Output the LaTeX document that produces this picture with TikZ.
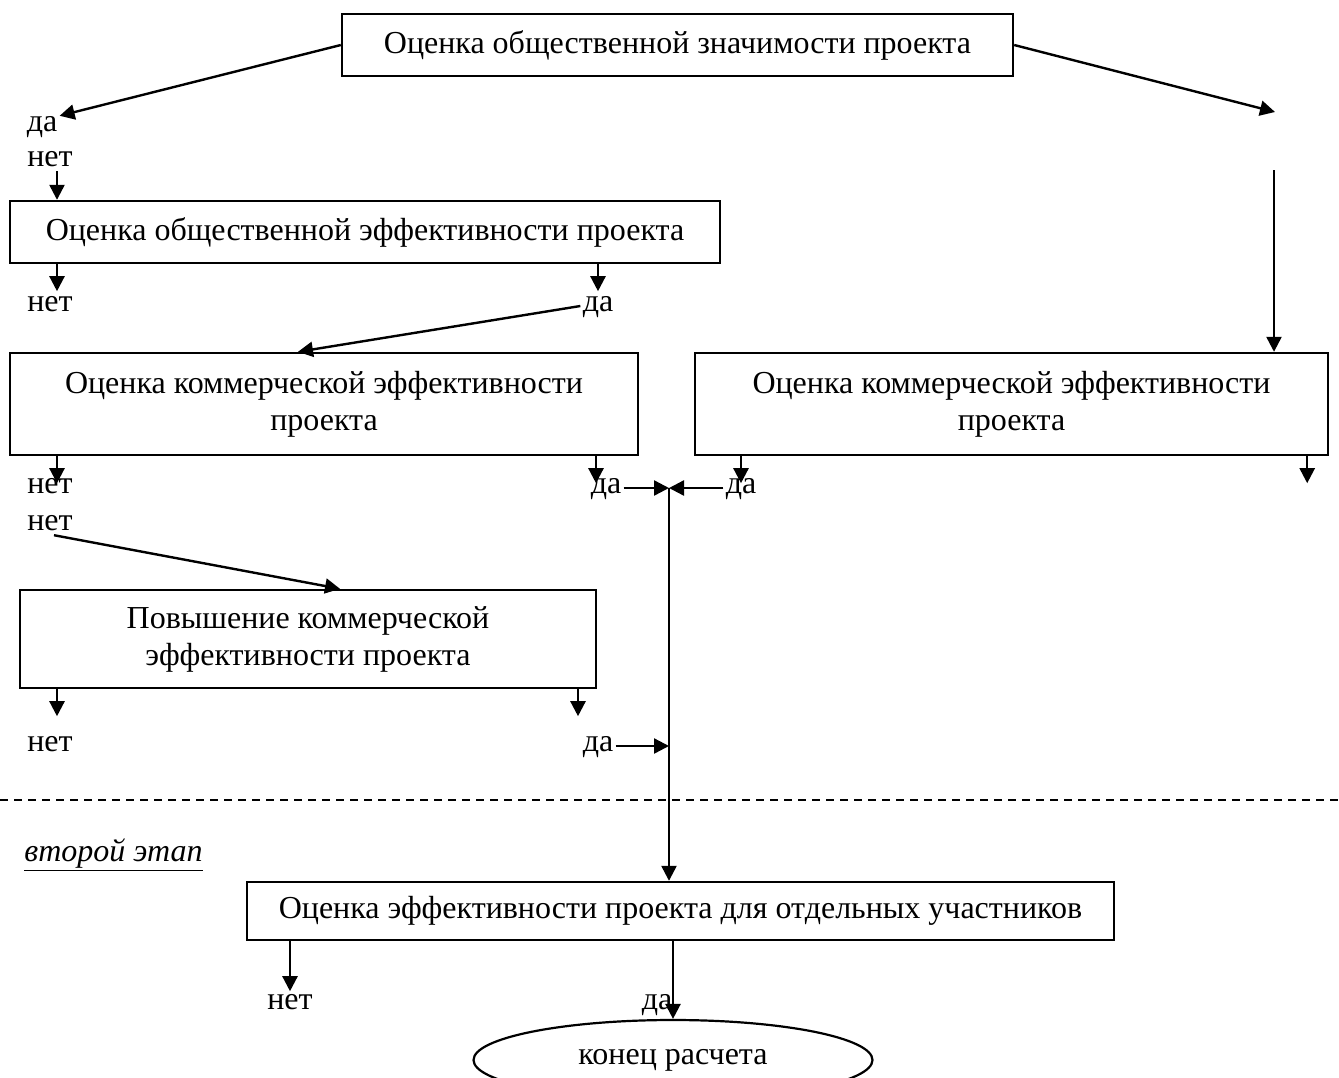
\documentclass[tikz,border=0pt]{standalone}
\usepackage{fontspec}
\setmainfont{Liberation Serif}
\usetikzlibrary{arrows.meta,shapes.geometric}

\tikzset{
  box/.style 2 args={draw,line width=1.2pt,minimum width=#1,minimum height=#2,
    inner sep=2pt,align=center},
  lbl/.style={inner sep=1pt,text height=1.4ex,text depth=0.3ex,yshift=-2pt},
  arr/.style={line width=1.2pt,-{Triangle[length=7.5pt,width=7.5pt]}},
  ln/.style={line width=1.2pt}
}

\begin{document}
\begin{tikzpicture}[x=0.5pt,y=-0.5pt,font=\fontsize{16}{18.5}\selectfont]
  \clip (0,0) rectangle (1339,1077);
  % boxes
  \node[box={335.5pt}{31pt}] (znach) at (677.5,45) {Оценка общественной значимости проекта};
  \node[box={355pt}{31pt}] (obsh) at (365,232) {Оценка общественной эффективности проекта};
  \node[box={314pt}{51pt}] (kom1) at (324,404) {Оценка коммерческой эффективности\\проекта};
  \node[box={316.5pt}{51pt}] (kom2) at (1011.5,404) {Оценка коммерческой эффективности\\проекта};
  \node[box={288pt}{49pt}] (povysh) at (308,639) {Повышение коммерческой\\эффективности проекта};
  \node[box={433.5pt}{29pt}] (uchast) at (680.5,911) {Оценка эффективности проекта для отдельных участников};
  \node[draw,ellipse,line width=1.1pt,minimum width=199.5pt,minimum height=40pt] (konec) at (673,1060) {конец расчета};
  % labels
  \node[lbl] (da1) at (42,122) {да};
  \node[lbl] (net1) at (50,157) {нет};
  \node[lbl] (net2) at (50,302) {нет};
  \node[lbl] (da2) at (598,302) {да};
  \node[lbl] (net3) at (50,484) {нет};
  \node[lbl] (da3) at (606,484) {да};
  \node[lbl] (da4) at (741,484) {да};
  \node[lbl] (net4) at (50,521) {нет};
  \node[lbl] (net5) at (50,742) {нет};
  \node[lbl] (da5) at (598,742) {да};
  \node[lbl] (net6) at (290,1000) {нет};
  \node[lbl] (da6) at (657,1000) {да};
  \node[lbl,anchor=west] (etap) at (22,852) {\underline{\textit{второй этап}}};
  \coordinate (r1) at (1275,112);
  \coordinate (r2) at (1274,170);
  \coordinate (j1) at (669,0);
  % connectors
  \draw[arr] (znach.west) -- (da1.north east);
  \draw[arr] (znach.east) -- (r1);
  \draw[arr] (r2) -- (r2 |- kom2.north);
  \draw[arr] ([xshift=3.5pt]net1.south) -- ([xshift=3.5pt]net1.south |- obsh.north);
  \draw[arr] ([xshift=3.5pt]net2.north |- obsh.south) -- ++(0,27);
  \draw[arr] (da2.north |- obsh.south) -- ++(0,27);
  \draw[arr] (da2.west) -- ([xshift=-13pt]kom1.north);
  \draw[arr] ([xshift=3.5pt]net3.north |- kom1.south) -- ++(0,27);
  \draw[arr] ([xshift=-5pt]da3.north |- kom1.south) -- ++(0,27);
  \draw[arr] (da4.north |- kom2.south) -- ++(0,27);
  \draw[arr] ([xshift=-11pt]kom2.south east) -- ++(0,27);
  \draw[arr] (da3.east) -- (da3.east -| j1);
  \draw[arr] (da4.west) -- (da4.west -| j1);
  \draw[arr] (da3.east -| j1) -- (j1 |- uchast.north);
  \draw[arr] ([xshift=2pt]net4.south) -- ([xshift=16pt]povysh.north);
  \draw[arr] ([xshift=3.5pt]net5.north |- povysh.south) -- ++(0,27);
  \draw[arr] ([xshift=-10pt]da5.north |- povysh.south) -- ++(0,27);
  \draw[arr] (da5.east) -- (da5.east -| j1);
  \draw[arr] (net6.north |- uchast.south) -- ++(0,50);
  \draw[arr] (konec.north |- uchast.south) -- (konec.north);
  % stage separator
  \draw[line width=0.7pt,dash pattern=on 4pt off 3pt] (0,800) -- (1339,800);
\end{tikzpicture}
\end{document}
